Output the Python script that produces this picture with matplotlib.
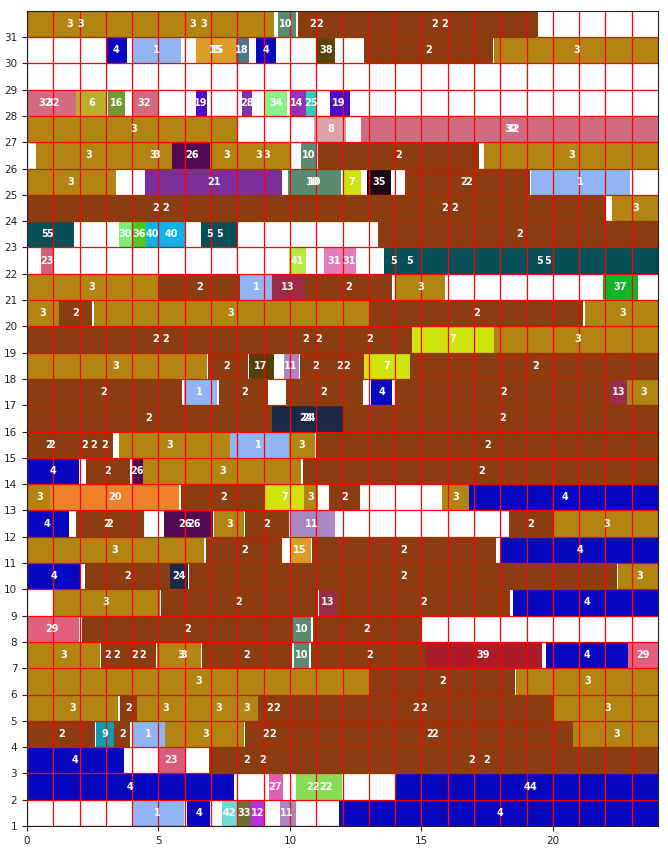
import matplotlib
matplotlib.use('Agg')
import matplotlib.pyplot as plt

# category colours (the number printed in each bar is its category)
cat_colors = {
    1: '#91b4f5', 2: '#8b3c10', 3: '#b28412', 4: '#0707c0', 5: '#064f56',
    6: '#b8b02a', 7: '#cfe30d', 8: '#e0a0a8', 9: '#1499b0', 10: '#5b8a72',
    11: '#a887c2', 12: '#bb2fdd', 13: '#9b2d48', 14: '#8e35b8', 15: '#d99e28',
    16: '#6c9b31', 17: '#54400a', 18: '#4f7488', 19: '#4a0bcc', 20: '#ee8128',
    21: '#7b2f9a', 22: '#88dd55', 23: '#d95c7a', 24: '#1c2a4a', 25: '#2ad0b5',
    26: '#520a52', 27: '#e05fb0', 28: '#7b35a8', 29: '#e0607e', 30: '#77f077',
    31: '#e57cb8', 32: '#d06b80', 33: '#6b6e34', 34: '#8af08a', 35: '#1e0516',
    36: '#44cc22', 37: '#12b52a', 38: '#5a4508', 39: '#aa1c28', 40: '#0ab4e8',
    41: '#b8e844', 42: '#6ddad5',
}

# segments per row: (start, end, category)
r31 = [(0, 9.41, 3), (9.56, 10.25, 10), (10.29, 19.45, 2)]
r30 = [(3.0, 3.80, 4), (4.03, 5.87, 1), (6.44, 7.96, 15), (7.96, 8.46, 18), (8.71, 9.47, 4),
       (11.04, 11.73, 38), (12.81, 17.73, 2), (17.77, 24, 3)]
r29 = []
r28 = [(0, 1.87, 32), (1.87, 3.0, 6), (3.07, 3.73, 16), (3.99, 5.0, 32), (6.44, 6.84, 19),
       (8.18, 8.56, 28), (9.07, 9.90, 34), (10.03, 10.63, 14), (10.63, 11.03, 25), (11.52, 12.30, 19)]
r27 = [(0, 8.03, 3), (10.93, 12.15, 8), (12.72, 24, 32)]
r26 = [(0.33, 5.51, 3), (5.51, 6.97, 26), (6.97, 10.06, 3), (10.44, 11.03, 10), (11.07, 17.19, 2),
       (17.38, 24, 3)]
r25 = [(0, 3.39, 3), (4.50, 9.70, 21), (9.93, 11.94, 10), (12.03, 12.72, 7), (12.95, 13.83, 35),
       (14.37, 19.13, 2), (19.16, 22.93, 1)]
r24 = [(0, 22.02, 2), (22.25, 24, 3)]
r23 = [(0, 1.80, 5), (3.50, 4.02, 30), (4.02, 4.53, 36), (4.53, 6.04, 40), (6.63, 8.0, 5),
       (13.36, 24, 2)]
r22 = [(0.53, 0.97, 23), (9.96, 10.62, 41), (11.31, 12.50, 31), (13.56, 24, 5)]
r21 = [(0, 4.97, 3), (4.97, 8.10, 2), (8.10, 9.32, 1), (9.32, 10.57, 13), (10.57, 13.89, 2),
       (14.05, 15.90, 3), (21.89, 23.23, 37)]
r20 = [(0, 1.22, 3), (1.22, 2.49, 2), (2.53, 13.0, 3), (13.0, 21.15, 2), (21.23, 24, 3)]
r19 = [(0, 14.63, 2), (14.63, 17.77, 7), (17.77, 24, 3)]
r18 = [(0, 6.84, 3), (6.88, 8.39, 2), (8.46, 9.38, 17), (9.77, 10.34, 11), (10.40, 12.81, 2),
       (12.81, 14.55, 7), (14.55, 24, 2)]
r17 = [(0, 5.89, 2), (5.96, 7.22, 1), (7.31, 9.17, 2), (9.87, 12.77, 2), (13.09, 13.89, 4),
       (14.02, 22.18, 2), (22.18, 22.82, 13), (22.82, 24, 3)]
r16 = [(0, 9.30, 2), (9.30, 12.01, 24), (12.05, 24, 2)]
r15 = [(0, 3.26, 2), (3.50, 7.71, 3), (7.71, 9.98, 1), (9.98, 10.95, 3), (10.98, 24, 2)]
r14 = [(0, 1.99, 4), (2.24, 3.90, 2), (3.99, 4.43, 26), (4.43, 10.44, 3), (10.48, 24, 2)]
r13 = [(0, 0.88, 3), (0.88, 5.80, 20), (5.84, 9.07, 2), (9.07, 10.53, 7), (10.53, 11.07, 3),
       (11.50, 12.65, 2), (15.77, 16.81, 3), (16.81, 24, 4)]
r12 = [(0, 1.61, 4), (1.87, 4.46, 2), (5.22, 7.06, 26), (7.10, 8.24, 3), (8.30, 9.96, 2),
       (10.04, 11.73, 11), (18.34, 20.01, 2), (20.05, 24, 3)]
r11 = [(0, 6.75, 3), (6.79, 9.70, 2), (10.04, 10.79, 15), (10.83, 17.83, 2), (17.99, 24, 4)]
r10 = [(0, 2.02, 4), (2.21, 5.45, 2), (5.45, 6.12, 24), (6.16, 22.43, 2), (22.47, 24, 3)]
r9 = [(1.0, 5.04, 3), (5.08, 11.06, 2), (11.10, 11.80, 13), (11.80, 18.37, 2), (18.50, 24, 4)]
r8 = [(0, 1.99, 29), (2.11, 10.12, 2), (10.12, 10.82, 10), (10.86, 14.97, 2)]
r7 = [(0, 2.76, 3), (2.80, 4.91, 2), (4.95, 6.63, 3), (6.67, 10.08, 2), (10.15, 10.74, 10),
      (10.82, 15.19, 2), (15.19, 19.58, 39), (19.73, 22.84, 4), (22.84, 24, 29)]
r6 = [(0, 13.03, 3), (13.03, 18.56, 2), (18.60, 24, 3)]
r5 = [(0, 3.48, 3), (3.52, 4.18, 2), (4.18, 8.79, 3), (8.79, 19.99, 2), (20.03, 24, 3)]
r4 = [(0, 2.59, 2), (2.62, 3.31, 9), (3.31, 3.92, 2), (4.03, 5.26, 1), (5.26, 8.24, 3),
      (8.30, 20.75, 2), (20.75, 24, 3)]
r3 = [(0, 3.70, 4), (5.0, 6.04, 23), (6.91, 24, 2)]
r2 = [(0, 7.89, 4), (9.22, 9.74, 27), (10.25, 11.99, 22), (14.02, 24, 4)]
r1 = [(4.03, 5.99, 1), (6.08, 6.97, 4), (7.43, 8.01, 42), (8.01, 8.52, 33), (8.52, 9.07, 12),
      (9.61, 10.25, 11), (11.86, 24, 4)]

# labels per row: (x, text)
t31 = [(1.64, '3'), (2.06, '3'), (6.32, '3'), (6.74, '3'), (9.85, '10'), (10.85, '2'), (11.12, '2'),
       (15.52, '2'), (15.90, '2')]
t30 = [(3.40, '4'), (4.90, '1'), (7.17, '15'), (7.27, '15'), (8.18, '18'), (9.09, '4'), (11.37, '38'),
       (15.26, '2'), (20.91, '3')]
t29 = []
t28 = [(0.69, '32'), (1.0, '32'), (2.48, '6'), (3.42, '16'), (4.47, '32'), (6.59, '19'), (8.37, '28'),
       (9.46, '34'), (10.27, '14'), (10.79, '25'), (11.86, '19')]
t27 = [(4.05, '3'), (11.54, '8'), (18.40, '32'), (18.50, '32')]
t26 = [(2.34, '3'), (4.78, '3'), (4.92, '3'), (6.27, '26'), (7.58, '3'), (8.81, '3'), (9.10, '3'),
       (10.72, '10'), (14.15, '2'), (20.72, '3')]
t25 = [(1.68, '3'), (7.10, '21'), (10.87, '10'), (10.95, '10'), (12.34, '7'), (13.38, '35'),
       (16.62, '2'), (16.78, '2'), (21.04, '1')]
t24 = [(4.88, '2'), (5.28, '2'), (15.90, '2'), (16.27, '2'), (23.16, '3')]
t23 = [(0.68, '5'), (0.86, '5'), (3.75, '30'), (4.27, '36'), (4.78, '40'), (5.51, '40'), (6.93, '5'),
       (7.31, '5'), (18.72, '2')]
t22 = [(0.75, '23'), (10.27, '41'), (11.67, '31'), (12.24, '31'), (13.95, '5'), (14.55, '5'),
       (19.48, '5'), (19.82, '5')]
t21 = [(2.46, '3'), (6.55, '2'), (8.72, '1'), (9.92, '13'), (12.24, '2'), (14.97, '3'), (22.56, '37')]
t20 = [(0.60, '3'), (1.85, '2'), (7.76, '3'), (17.09, '2'), (22.65, '3')]
t19 = [(4.88, '2'), (5.28, '2'), (10.59, '2'), (11.10, '2'), (13.04, '2'), (16.18, '7'), (20.94, '3')]
t18 = [(3.38, '3'), (7.61, '2'), (8.88, '17'), (10.03, '11'), (10.97, '2'), (11.89, '2'), (12.15, '2'),
       (13.70, '7'), (19.35, '2')]
t17 = [(2.91, '2'), (6.57, '1'), (8.27, '2'), (11.29, '2'), (13.51, '4'), (18.12, '2'), (22.49, '13'),
       (23.45, '3')]
t16 = [(4.62, '2'), (10.60, '24'), (10.72, '24'), (18.08, '2')]
t15 = [(0.81, '2'), (0.94, '2'), (2.18, '2'), (2.55, '2'), (2.97, '2'), (5.42, '3'), (8.81, '1'),
       (10.44, '3'), (17.51, '2')]
t14 = [(0.98, '4'), (3.07, '2'), (4.20, '26'), (7.45, '3'), (17.28, '2')]
t13 = [(0.47, '3'), (3.33, '20'), (7.48, '2'), (9.80, '7'), (10.81, '3'), (12.09, '2'), (16.30, '3'),
       (20.46, '4')]
t12 = [(0.77, '4'), (3.01, '2'), (3.16, '2'), (6.02, '26'), (6.34, '26'), (7.70, '3'), (9.13, '2'),
       (10.84, '11'), (19.16, '2'), (22.06, '3')]
t11 = [(3.35, '3'), (8.27, '2'), (10.37, '15'), (14.34, '2'), (21.04, '4')]
t10 = [(1.04, '4'), (3.84, '2'), (5.77, '24'), (14.34, '2'), (23.29, '3')]
t9 = [(3.01, '3'), (8.05, '2'), (11.42, '13'), (15.10, '2'), (21.30, '4')]
t8 = [(0.96, '29'), (6.12, '2'), (10.46, '10'), (12.91, '2')]
t7 = [(1.38, '3'), (3.06, '2'), (3.39, '2'), (4.08, '2'), (4.41, '2'), (5.83, '3'), (5.96, '3'),
      (8.37, '2'), (10.43, '10'), (13.03, '2'), (17.36, '39'), (21.30, '4'), (23.43, '29')]
t6 = [(6.53, '3'), (15.80, '2'), (21.32, '3')]
t5 = [(1.73, '3'), (3.86, '2'), (5.26, '3'), (7.29, '3'), (8.37, '3'), (9.23, '2'), (9.49, '2'),
      (14.78, '2'), (15.10, '2'), (22.08, '3')]
t4 = [(1.30, '2'), (2.95, '9'), (3.63, '2'), (4.62, '1'), (6.78, '3'), (9.09, '2'), (9.36, '2'),
      (15.32, '2'), (15.52, '2'), (22.43, '3')]
t3 = [(1.83, '4'), (5.49, '23'), (8.37, '2'), (8.96, '2'), (16.91, '2'), (17.49, '2')]
t2 = [(3.92, '4'), (9.45, '27'), (10.87, '22'), (11.38, '22'), (19.03, '4'), (19.25, '4')]
t1 = [(4.94, '1'), (6.53, '4'), (7.71, '42'), (8.24, '33'), (8.79, '12'), (9.89, '11'), (17.98, '4')]

rows = {
    31: (r31, t31), 30: (r30, t30), 29: (r29, t29), 28: (r28, t28), 27: (r27, t27),
    26: (r26, t26), 25: (r25, t25), 24: (r24, t24), 23: (r23, t23), 22: (r22, t22),
    21: (r21, t21), 20: (r20, t20), 19: (r19, t19), 18: (r18, t18), 17: (r17, t17),
    16: (r16, t16), 15: (r15, t15), 14: (r14, t14), 13: (r13, t13), 12: (r12, t12),
    11: (r11, t11), 10: (r10, t10), 9: (r9, t9), 8: (r8, t8), 7: (r7, t7),
    6: (r6, t6), 5: (r5, t5), 4: (r4, t4), 3: (r3, t3), 2: (r2, t2), 1: (r1, t1),
}

fig = plt.figure(figsize=(6.68, 8.5), dpi=100)
ax = fig.add_axes([27 / 668, 24 / 850, 631 / 668, 815.3 / 850])

for row, (segs, labels) in rows.items():
    for start, end, cat in segs:
        ax.barh(row + 0.5, end - start, left=start, height=1.0,
                color=cat_colors[cat], edgecolor='none', zorder=1)
    for x, txt in labels:
        ax.text(x, row + 0.5, txt, ha='center', va='center', color='white',
                fontsize=7, fontweight='bold', zorder=4)

ax.set_xlim(0, 24)
ax.set_ylim(1, 32)
ax.set_xticks([0, 5, 10, 15, 20])
ax.set_xticks(range(1, 24), minor=True)
ax.set_yticks(range(1, 32))
ax.tick_params(axis='both', labelsize=7.5, colors='#222222')
ax.tick_params(axis='x', which='minor', length=0)
ax.set_axisbelow(False)
ax.grid(True, which='both', color='red', linewidth=0.9)
for s in ax.spines.values():
    s.set_color('#222222')
    s.set_zorder(5)

fig.savefig('out.png', dpi=100)
